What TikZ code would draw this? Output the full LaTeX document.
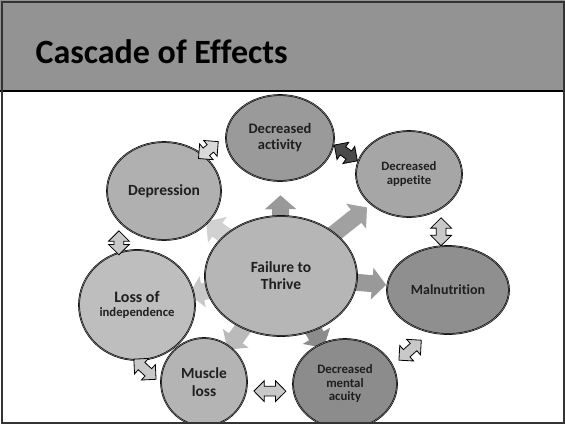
\documentclass[tikz,border=0pt]{standalone}
\usepackage{fontspec}
\setmainfont{Carlito}[Ligatures=CommonOff]
\usetikzlibrary{shapes.geometric,shapes.arrows,arrows.meta,backgrounds}

\definecolor{bandgray}{HTML}{939393}
\definecolor{actfill}{HTML}{9A9A9A}
\definecolor{appfill}{HTML}{A6A6A6}
\definecolor{depfill}{HTML}{B0B0B0}
\definecolor{lossfill}{HTML}{BEBEBE}
\definecolor{fttfill}{HTML}{B6B6B6}
\definecolor{malfill}{HTML}{8F8F8F}
\definecolor{musfill}{HTML}{B4B4B4}
\definecolor{menfill}{HTML}{8C8C8C}
\definecolor{linklight}{HTML}{C8C8C8}
\definecolor{linkdark}{HTML}{4A4A4A}

\tikzset{
  bubble/.style={ellipse, draw=black, line width=0.6pt, double=black!45,
    double distance=0.5pt, inner sep=0pt, align=center, text=black!88},
  txt/.style 2 args={font=\bfseries\fontsize{#1}{#2}\selectfont},
  link/.style={double arrow, draw=black, line width=0.8pt, inner xsep=0pt, inner ysep=4.5pt,
    minimum width=20pt, double arrow head extend=5.5pt, sloped, fill=linklight},
  ray/.style={line width=17pt, -{Triangle[length=14pt,width=31pt]}},
}

\begin{document}
\begin{tikzpicture}[x=1pt, y=-1pt]
  \useasboundingbox (0,0) rectangle (565,424);

  % Title band
  \begin{pgfonlayer}{background}
    \fill[white] (0,0) rectangle (565,424);
    \fill[bandgray] (0,0) rectangle (565,91);
  \end{pgfonlayer}
  \draw[line width=1.5pt] (0,91) -- (565,91);
  \node[anchor=base west, txt={34}{40}] (title) at (32,63) {Cascade of Effects};

  % Ellipses
  \begin{scope}
    \clip (0,91) rectangle (565,421.5);
    \node[bubble, fill=actfill, minimum width=108pt, minimum height=86pt, txt={14.5}{16}] (act) at (280,138) {Decreased\\activity};
    \node[bubble, fill=appfill, minimum width=106pt, minimum height=86pt, txt={12.7}{13.5}] (app) at (409,174) {Decreased\\appetite};
    \node[bubble, fill=depfill, minimum width=114pt, minimum height=98pt, txt={15.5}{17}] (dep) at (164,191) {Depression};
    \node[bubble, fill=lossfill, minimum width=116pt, minimum height=110pt, txt={12.7}{14}] (loss) at (137,305) {{\fontsize{16}{17}\selectfont Loss of}\\independence};
    \node[bubble, fill=fttfill, minimum width=152pt, minimum height=120pt, txt={15.5}{17}] (ftt) at (281,276) {Failure to\\Thrive};
    \node[bubble, fill=malfill, minimum width=122pt, minimum height=88pt, txt={14}{16}] (mal) at (448,290) {Malnutrition};
    \node[bubble, fill=musfill, minimum width=86pt, minimum height=88pt, txt={15.4}{18}] (mus) at (204,382) {Muscle\\loss};
    \node[bubble, fill=menfill, minimum width=104pt, minimum height=90pt, txt={12.8}{13.5}] (men) at (345,384) {Decreased\\mental\\acuity};
  \end{scope}

  % Rays from the centre
  \begin{pgfonlayer}{background}
    \draw[ray, draw=black!40, shorten >=14pt] (ftt.center) -- (act);
    \draw[ray, draw=black!37, shorten >=5pt] (ftt.center) -- (app);
    \draw[ray, draw=black!40, shorten >=1pt] (ftt.center) -- (mal);
    \draw[ray, draw=black!45, shorten >=42pt] (ftt.center) -- (men.center);
    \draw[ray, draw=black!27, shorten >=40pt] (ftt.center) -- (mus.center);
    \draw[ray, draw=black!21, shorten >=53pt] (ftt.center) -- (loss.center);
    \draw[ray, draw=black!18, shorten >=52pt] (ftt.center) -- (dep.center);
  \end{pgfonlayer}

  % Links between neighbours
  \path (dep.43) -- node[link, pos=0.24, minimum height=26pt, fill=black!15] (l1) {} (act.177);
  \path (act.-7) -- node[link, pos=0.5, minimum height=28pt, fill=linkdark] (l2) {} (app.166);
  \path (app.-47) -- node[link, pos=0.62, minimum height=28pt] (l3) {} (mal.99);
  \path (men.21) -- node[link, pos=0.465, minimum height=30pt] (l4) {} (mal.-113);
  \path (mus.-12) -- node[link, pos=0.5, minimum height=32pt] (l5) {} (men.188);
  \path (loss.-92) -- node[link, pos=0.385, minimum height=30pt] (l6) {} (mus.182);
  \path (loss.109) -- node[link, pos=0.31, minimum height=24pt] (l7) {} (dep.214);

  % Frame
  \draw[line width=2pt, draw=black!80] (1.5,1.5) rectangle (563.5,422.5);
\end{tikzpicture}
\end{document}
